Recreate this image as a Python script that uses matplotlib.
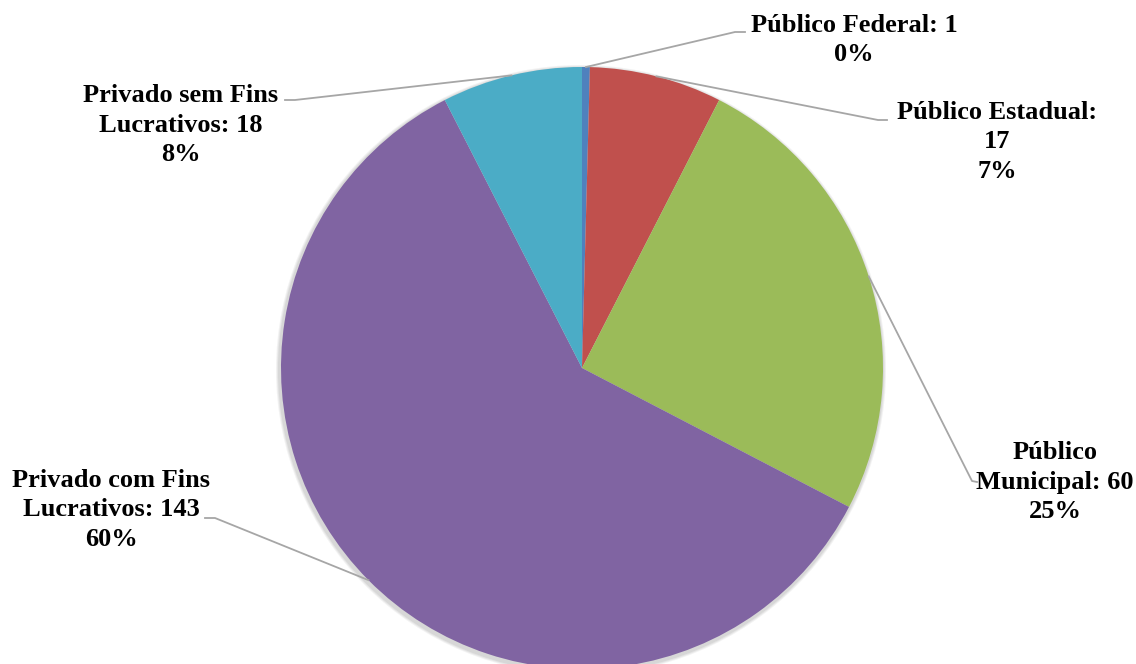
import numpy as np
import matplotlib.pyplot as plt
from matplotlib.patches import Circle

plt.rcParams['font.family'] = ['Liberation Serif', 'DejaVu Serif']

categories = ['Público Federal', 'Público Estadual', 'Público Municipal',
              'Privado com Fins Lucrativos', 'Privado sem Fins Lucrativos']
values = [1, 17, 60, 143, 18]
label_texts = ['Público Federal: 1\n0%',
               'Público Estadual:\n17\n7%',
               'Público\nMunicipal: 60\n25%',
               'Privado com Fins\nLucrativos: 143\n60%',
               'Privado sem Fins\nLucrativos: 18\n8%']
colors = ['#4F81BD', '#C0504D', '#9BBB59', '#8064A2', '#4BACC6']

W, H = 1136, 664
cx, cy, R = 582, 368, 301

fig = plt.figure(figsize=(W / 100, H / 100), dpi=100)
ax = fig.add_axes([0, 0, 1, 1])

# soft shadow behind the pie
for k, a in zip([4, 3, 2], [0.10, 0.12, 0.15]):
    ax.add_patch(Circle((cx - 1, H - cy - 2), R + k, color='#888888', alpha=a, lw=0, zorder=0))

wedges, _ = ax.pie(values, colors=colors, startangle=90, counterclock=False,
                   center=(cx, H - cy), radius=R, frame=True,
                   wedgeprops=dict(linewidth=0, zorder=1))
ax.set_xlim(0, W)
ax.set_ylim(0, H)
ax.set_aspect('equal')
ax.axis('off')

# text position (centre, px from top) and elbow of the leader line
text_pos = [(854, 40), (997, 142), (1055, 482), (111, 510), (181, 125)]
elbows = [((735, 32), (745, 32)),
          ((878, 120), (887, 120)),
          ((972, 481), (977, 482)),
          ((215, 518), (205, 518)),
          ((295, 100), (285, 100))]

for w, txt, (tx, ty), (e1, e2) in zip(wedges, label_texts, text_pos, elbows):
    ang = np.deg2rad((w.theta1 + w.theta2) / 2)
    px = cx + R * np.cos(ang)
    py = (H - cy) + R * np.sin(ang)
    ax.plot([px, e1[0], e2[0]], [py, H - e1[1], H - e2[1]],
            color='#a6a6a6', lw=1.3, zorder=5)
    ax.text(tx, H - ty, txt, ha='center', va='center', fontsize=19,
            fontweight='bold', linespacing=1.35, zorder=6)

fig.savefig('out.png', dpi=100)
